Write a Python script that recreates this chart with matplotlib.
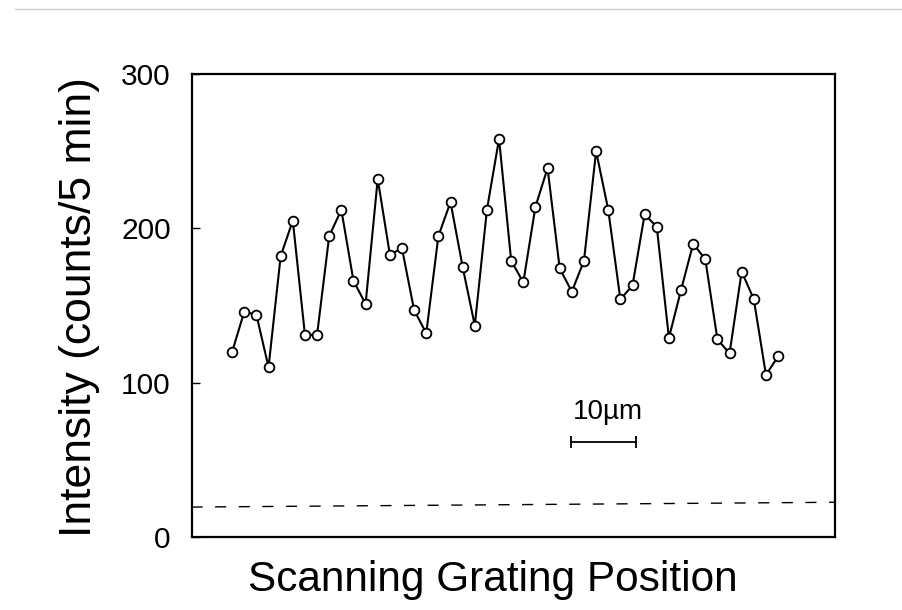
import numpy as np
import matplotlib
matplotlib.use('Agg')
import matplotlib.pyplot as plt
from matplotlib.lines import Line2D

plt.rcParams['font.family'] = ['Liberation Sans', 'DejaVu Sans']

# grating scan, counts per 5 min
counts = [120, 146, 144, 110, 182, 205, 131, 131, 195, 212, 166, 151,
          232, 183, 187, 147, 132, 195, 217, 175, 137, 212, 258, 179,
          165, 214, 239, 174, 159, 179, 250, 212, 154, 163, 209, 201,
          129, 160, 190, 180, 128, 119, 172, 154, 105, 117]
steps = np.arange(len(counts))

# background level (left end, right end)
background = [19.4, 22.5]

yticks = [0, 100, 200, 300]
ylabels = ['0', '100', '200', '300']

# scale bar: 10 um in units of scan steps
bar_start = 27.9
bar_len = 5.4
bar_level = 61.5
bar_text = '10\u00b5m'

fig = plt.figure(figsize=(9.02, 6.10), dpi=100)
ax = fig.add_axes([191.5/902, 1 - 537/610, (834.5 - 191.5)/902, (537 - 74)/610])

ax.plot(steps, counts, '-', color='black', lw=1.5,
        marker='o', ms=7, mfc='white', mec='black', mew=1.3, zorder=3)

ax.set_xlim(-3.35, 49.65)
ax.set_ylim(0, 300)

x0, x1 = ax.get_xlim()
ax.plot([x0, x1], background, color='black', lw=1.0, dashes=(8, 9))

# scale bar
ax.plot([bar_start, bar_start + bar_len], [bar_level, bar_level],
        color='black', lw=1.3, marker='|', ms=8, mew=1.3)
ax.text(bar_start + bar_len / 2 + 0.35, bar_level + 11, bar_text,
        ha='center', va='bottom', fontsize=20)

ax.set_xticks([])
ax.set_yticks(yticks)
ax.set_yticklabels(ylabels, fontsize=21.5)
ax.tick_params(axis='y', direction='in', length=6, width=1.0, pad=15)
for s in ax.spines.values():
    s.set_linewidth(1.6)

ax.set_ylabel('Intensity (counts/5 min)', fontsize=32)
ax.yaxis.set_label_coords(-0.142, 0.496)
ax.set_xlabel('Scanning Grating Position', fontsize=30.5)
ax.xaxis.set_label_coords(0.469, -0.05)

# light frame line at the top of the page
fig.add_artist(Line2D([15/902, 1], [1 - 9/610, 1 - 9/610],
                      transform=fig.transFigure, color='#cccccc', lw=1.0))

fig.savefig('out.png', dpi=100)
